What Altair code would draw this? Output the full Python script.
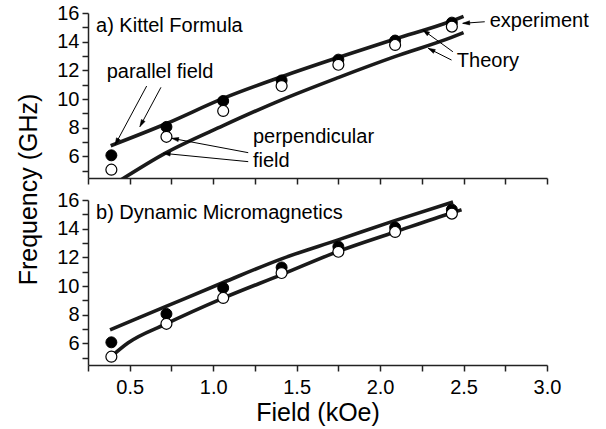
import math
import altair as alt
import pandas as pd

FONT = "Liberation Sans"
INK = "#1a1a1a"

# ---- experimental data (same points in both panels) ----
field = [0.39, 0.72, 1.06, 1.41, 1.75, 2.09, 2.43]
f_parallel = [6.08, 8.06, 9.87, 11.30, 12.75, 14.08, 15.33]
f_perpendicular = [5.08, 7.37, 9.17, 10.91, 12.39, 13.77, 15.05]

# ---- theory curves, panel a (Kittel formula) ----
kit_par_H = [0.386, 0.721, 1.06, 1.41, 1.749, 2.088, 2.428, 2.50]
kit_par_f = [6.75, 8.30, 10.05, 11.56, 12.90, 14.18, 15.44, 15.77]
kit_perp_H = [0.446, 0.711, 1.06, 1.41, 1.749, 2.088, 2.428, 2.50]
kit_perp_f = [4.36, 6.22, 8.15, 9.95, 11.50, 12.96, 14.30, 14.63]

# ---- theory curves, panel b (dynamic micromagnetics) ----
mm_par_H = [0.382, 0.721, 1.06, 1.41, 1.749, 2.088, 2.437]
mm_par_f = [6.95, 8.60, 10.25, 11.90, 13.22, 14.56, 15.86]
mm_perp_H = [0.39, 0.491, 0.711, 1.06, 1.41, 1.749, 2.088, 2.428, 2.488]
mm_perp_f = [5.10, 6.05, 7.33, 9.16, 10.80, 12.42, 13.77, 15.10, 15.32]

# ---- annotations (panel a) ----
note_text = ["parallel field", "perpendicular", "field", "experiment", "Theory"]
note_H = [0.362, 1.238, 1.238, 2.657, 2.46]
note_f = [11.45, 6.96, 5.29, 14.99, 12.26]

arrow_H1 = [0.6015, 0.687, 1.21, 1.21, 2.627, 2.436, 2.428]
arrow_f1 = [10.91, 10.82, 6.265, 5.64, 15.39, 13.30, 12.72]
arrow_H2 = [0.4117, 0.561, 0.751, 0.701, 2.495, 2.256, 2.288]
arrow_f2 = [6.80, 8.08, 7.27, 6.22, 15.28, 14.82, 13.54]

panel_labels = ["a) Kittel Formula", "b) Dynamic Micromagnetics"]
label_H = 0.298
label_f = 14.70

X_DOMAIN = [0.25, 3.0]
Y_DOMAIN = [4.5, 16]
W, H = 459, 165
PX_X = W / (X_DOMAIN[1] - X_DOMAIN[0])
PX_Y = H / (Y_DOMAIN[1] - Y_DOMAIN[0])

x_ticks = [0.25 * i for i in range(1, 13)]
y_ticks = list(range(5, 17))

exp_df = pd.DataFrame({"H": field, "fpar": f_parallel, "fperp": f_perpendicular})


def lines_df(h1, f1, h2, f2):
    return pd.concat([
        pd.DataFrame({"H": h1, "f": f1, "s": "par"}),
        pd.DataFrame({"H": h2, "f": f2, "s": "perp"}),
    ])


def panel(ldf, label, top):
    if top:
        xaxis = alt.Axis(values=x_ticks, labels=False, title=None, tickSize=6,
                         grid=False)
        yaxis = alt.Axis(values=y_ticks, title="Frequency (GHz)",
                         labelExpr="datum.value % 2 == 0 ? datum.label : ''",
                         tickSize=6, labelPadding=3, labelFlush=False,
                         titleAngle=270, titleX=-52, titleY=176,
                         titleAlign="center", titleBaseline="alphabetic",
                         grid=False)
    else:
        xaxis = alt.Axis(values=x_ticks, title="Field (kOe)",
                         labelExpr="(datum.value * 4) % 2 == 0 ? format(datum.value, '.1f') : ''",
                         tickSize=6, labelPadding=6, labelFlush=False,
                         labelOverlap=False, titleY=55,
                         titleBaseline="alphabetic", grid=False)
        yaxis = alt.Axis(values=y_ticks, title=None,
                         labelExpr="datum.value % 2 == 0 ? datum.label : ''",
                         tickSize=6, labelPadding=3, labelFlush=False,
                         grid=False)

    def xs(name):
        return alt.X(name, type="quantitative",
                     scale=alt.Scale(domain=X_DOMAIN, nice=False, zero=False),
                     axis=xaxis)

    def ys(name):
        return alt.Y(name, type="quantitative",
                     scale=alt.Scale(domain=Y_DOMAIN, nice=False, zero=False),
                     axis=yaxis)

    lines = alt.Chart(ldf).mark_line(
        color=INK, strokeWidth=3.6, clip=True, strokeCap="butt",
        interpolate="monotone"
    ).encode(x=xs("H"), y=ys("f"), detail="s:N")

    filled = alt.Chart(exp_df).mark_point(
        shape="circle", filled=True, size=120, fill="black", stroke="black",
        strokeWidth=1, opacity=1
    ).encode(x=xs("H"), y=ys("fpar"))

    hollow = alt.Chart(exp_df).mark_point(
        shape="circle", filled=True, size=120, fill="white", stroke="black",
        strokeWidth=1.2, opacity=1
    ).encode(x=xs("H"), y=ys("fperp"))

    lab = alt.Chart(pd.DataFrame({"H": [label_H], "f": [label_f], "t": [label]})).mark_text(
        align="left", baseline="alphabetic", font=FONT, fontSize=20, color="black"
    ).encode(x=xs("H"), y=ys("f"), text="t:N")

    layers = [lines, filled, hollow, lab]

    if top:
        ndf = pd.DataFrame({"H": note_H, "f": note_f, "t": note_text})
        notes = alt.Chart(ndf).mark_text(
            align="left", baseline="alphabetic", font=FONT, fontSize=20, color="black"
        ).encode(x=xs("H"), y=ys("f"), text="t:N")

        ang = [
            math.degrees(math.atan2((b - a) * PX_X, (d - c) * PX_Y)) % 360
            for a, b, c, d in zip(arrow_H1, arrow_H2, arrow_f1, arrow_f2)
        ]
        adf = pd.DataFrame({"h1": arrow_H1, "f1": arrow_f1, "h2": arrow_H2,
                            "f2": arrow_f2, "ang": ang})
        rules = alt.Chart(adf).mark_rule(color="black", strokeWidth=1).encode(
            x=xs("h1"), y=ys("f1"), x2="h2:Q", y2="f2:Q")
        heads = alt.Chart(adf).mark_point(
            shape="M0,0L-0.3,1L0.3,1Z", filled=True, size=196, fill="black",
            stroke="black", strokeWidth=0.5, opacity=1
        ).encode(x=xs("h2"), y=ys("f2"), angle=alt.Angle("ang:Q", scale=None))
        layers = [lines, rules, heads, filled, hollow, lab, notes]

    return alt.layer(*layers).properties(width=W, height=H)


top = panel(lines_df(kit_par_H, kit_par_f, kit_perp_H, kit_perp_f), panel_labels[0], True)
bottom = panel(lines_df(mm_par_H, mm_par_f, mm_perp_H, mm_perp_f), panel_labels[1], False)

chart = alt.vconcat(top, bottom, spacing=22, bounds="flush").properties(
    padding={"left": 16, "top": 3, "right": 5, "bottom": 5},
    background="white",
).configure_view(stroke=None).configure_axis(
    domainColor="#222", tickColor="#222", domainWidth=1.5, tickWidth=1.5,
    labelFont=FONT, labelFontSize=20, labelColor="black",
    titleFont=FONT, titleFontSize=25, titleFontWeight="normal", titleColor="black",
)

chart.save("out.html", embed_options={"renderer": "svg", "actions": False})
